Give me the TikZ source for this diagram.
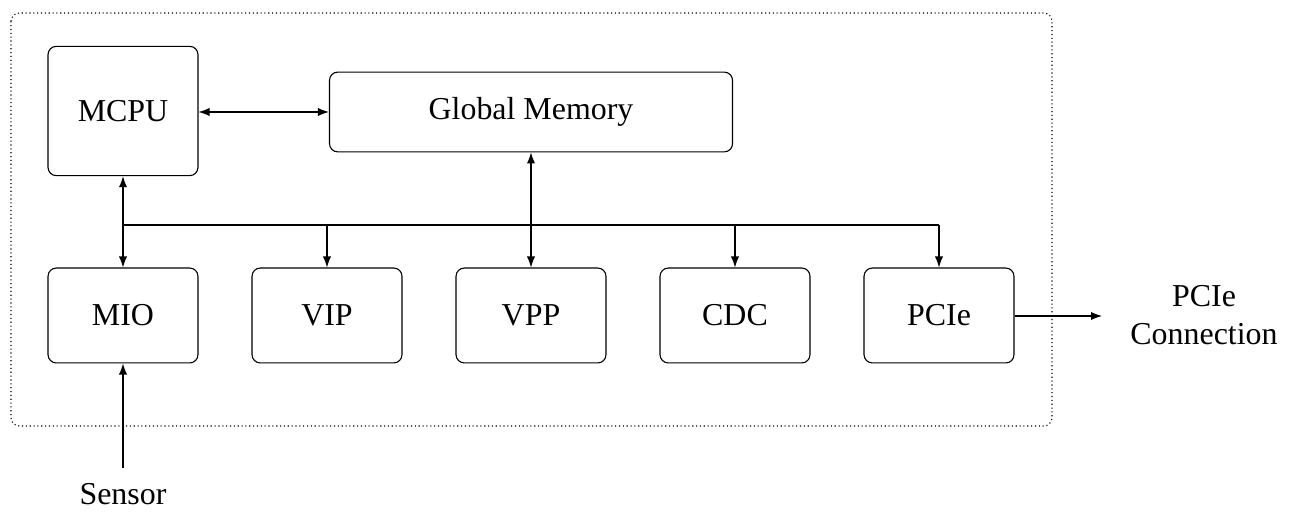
\documentclass[tikz,border=0pt]{standalone}
\usepackage{fontspec}
\setmainfont{Liberation Serif}
\usetikzlibrary{positioning,arrows.meta}

\begin{document}
\begin{tikzpicture}[x=0.3635pt,y=-0.3635pt,
  unit/.style={draw,rounded corners=3pt,minimum width=54.5pt,minimum height=34.5pt,inner sep=2pt,font=\fontsize{11.6}{14}\selectfont},
  lbl/.style={font=\fontsize{11.6}{14}\selectfont,align=center},
  link/.style={-{Latex[length=4pt,width=3pt]}},
  both/.style={{Latex[length=4pt,width=3pt]}-{Latex[length=4pt,width=3pt]}}
]
\useasboundingbox (0,0) rectangle (1293,517);

% Chip outline
\draw[densely dotted,rounded corners=3pt] (11,13) rectangle (1052,426);

% Top row
\node[unit,minimum height=47pt] (mcpu) at (123,111) {MCPU};
\node[unit,minimum width=146.5pt,minimum height=29pt] (gmem) at (531,112) {Global Memory};

% Bottom row
\foreach \name/\txt [count=\i from 0] in {mio/MIO,vip/VIP,vpp/VPP,cdc/CDC,pcie/PCIe} {
  \node[unit] (\name) at (123+\i*204,315.5) {\txt};
}

% Outside
\node[lbl] (conn) at (1204,315) {PCIe\\Connection};
\node[lbl,anchor=base] (sensor) at (123,505) {Sensor};
\coordinate (pcieout) at (1102,316);

% Bus
\coordinate (busL) at (123,225);
\coordinate (busR) at (939,225);
\draw (busL) -- (busR);

% Connections
\draw[both] (mcpu.east |- gmem) -- (gmem.west);
\draw[both] (mcpu.south) -- (mio.north);
\draw[both] (gmem.south) -- (vpp.north);
\foreach \n in {vip,cdc,pcie} {
  \draw[link] (\n.north |- busL) -- (\n.north);
}
\draw[link] (pcie.east |- pcieout) -- (pcieout);
\draw[link] (sensor.north) ++(0,-6) -- (mio.south);

\end{tikzpicture}
\end{document}
